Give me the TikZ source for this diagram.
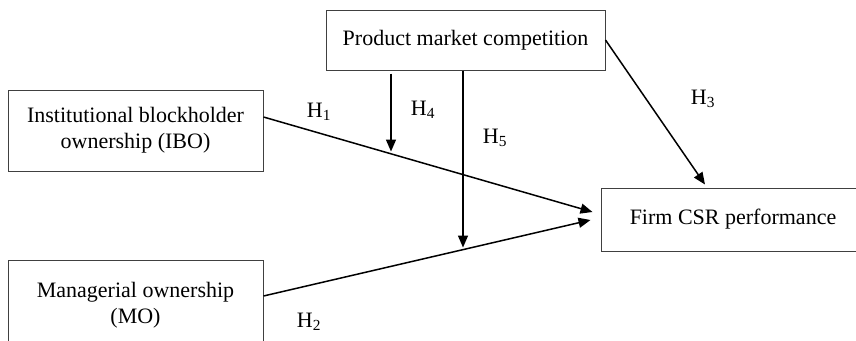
\documentclass[tikz,border=0pt]{standalone}
\usepackage{fontspec}
\setmainfont{Liberation Serif}
\usetikzlibrary{arrows.meta,calc}
\tikzset{
  box/.style={draw=black!75, line width=1pt, rectangle, inner sep=0pt, align=center,
    font=\fontsize{22}{26}\selectfont},
  arr/.style={line width=1.5pt, -{Triangle[length=12pt,width=10pt]}},
  lbl/.style={inner sep=0pt, font=\fontsize{22}{26}\selectfont}
}
\begin{document}
\begin{tikzpicture}[x=1pt,y=-1pt]
\clip (0,0) rectangle (856,340);
\node[box, minimum width=279pt, minimum height=60pt] (pmc) at (465.5,40) {Product market competition};
\node[box, minimum width=255pt, minimum height=81pt] (ibo) at (135.5,130.5) {Institutional blockholder\\ownership (IBO)};
\node[box, minimum width=255pt, minimum height=90pt] (mo) at (135.5,305) {Managerial ownership\\(MO)};
\node[box, minimum width=264pt, minimum height=63pt] (firm) at (733,219.5) {Firm CSR performance};

\draw[arr] ($(ibo.east)+(0,-13.5)$) -- ($(firm.west)+(-8,-7.5)$);
\draw[arr] ($(mo.east)+(0,-9)$) -- ($(firm.west)+(-10,0.5)$);
\draw[arr] (pmc.east) -- ($(firm.north)+(-28,-3)$);
\draw[arr] ($(pmc.south)+(-74.5,3)$) -- ($(pmc.south)+(-74.5,81)$);
\draw[arr] ($(pmc.south)+(-2.5,0)$) -- ($(pmc.south)+(-2.5,177)$);

\node[lbl] (h1) at (319,112) {H\textsubscript{1}};
\node[lbl] (h2) at (309,322) {H\textsubscript{2}};
\node[lbl] (h3) at (703,99) {H\textsubscript{3}};
\node[lbl] (h4) at (423,110) {H\textsubscript{4}};
\node[lbl] (h5) at (495,138) {H\textsubscript{5}};
\end{tikzpicture}
\end{document}
